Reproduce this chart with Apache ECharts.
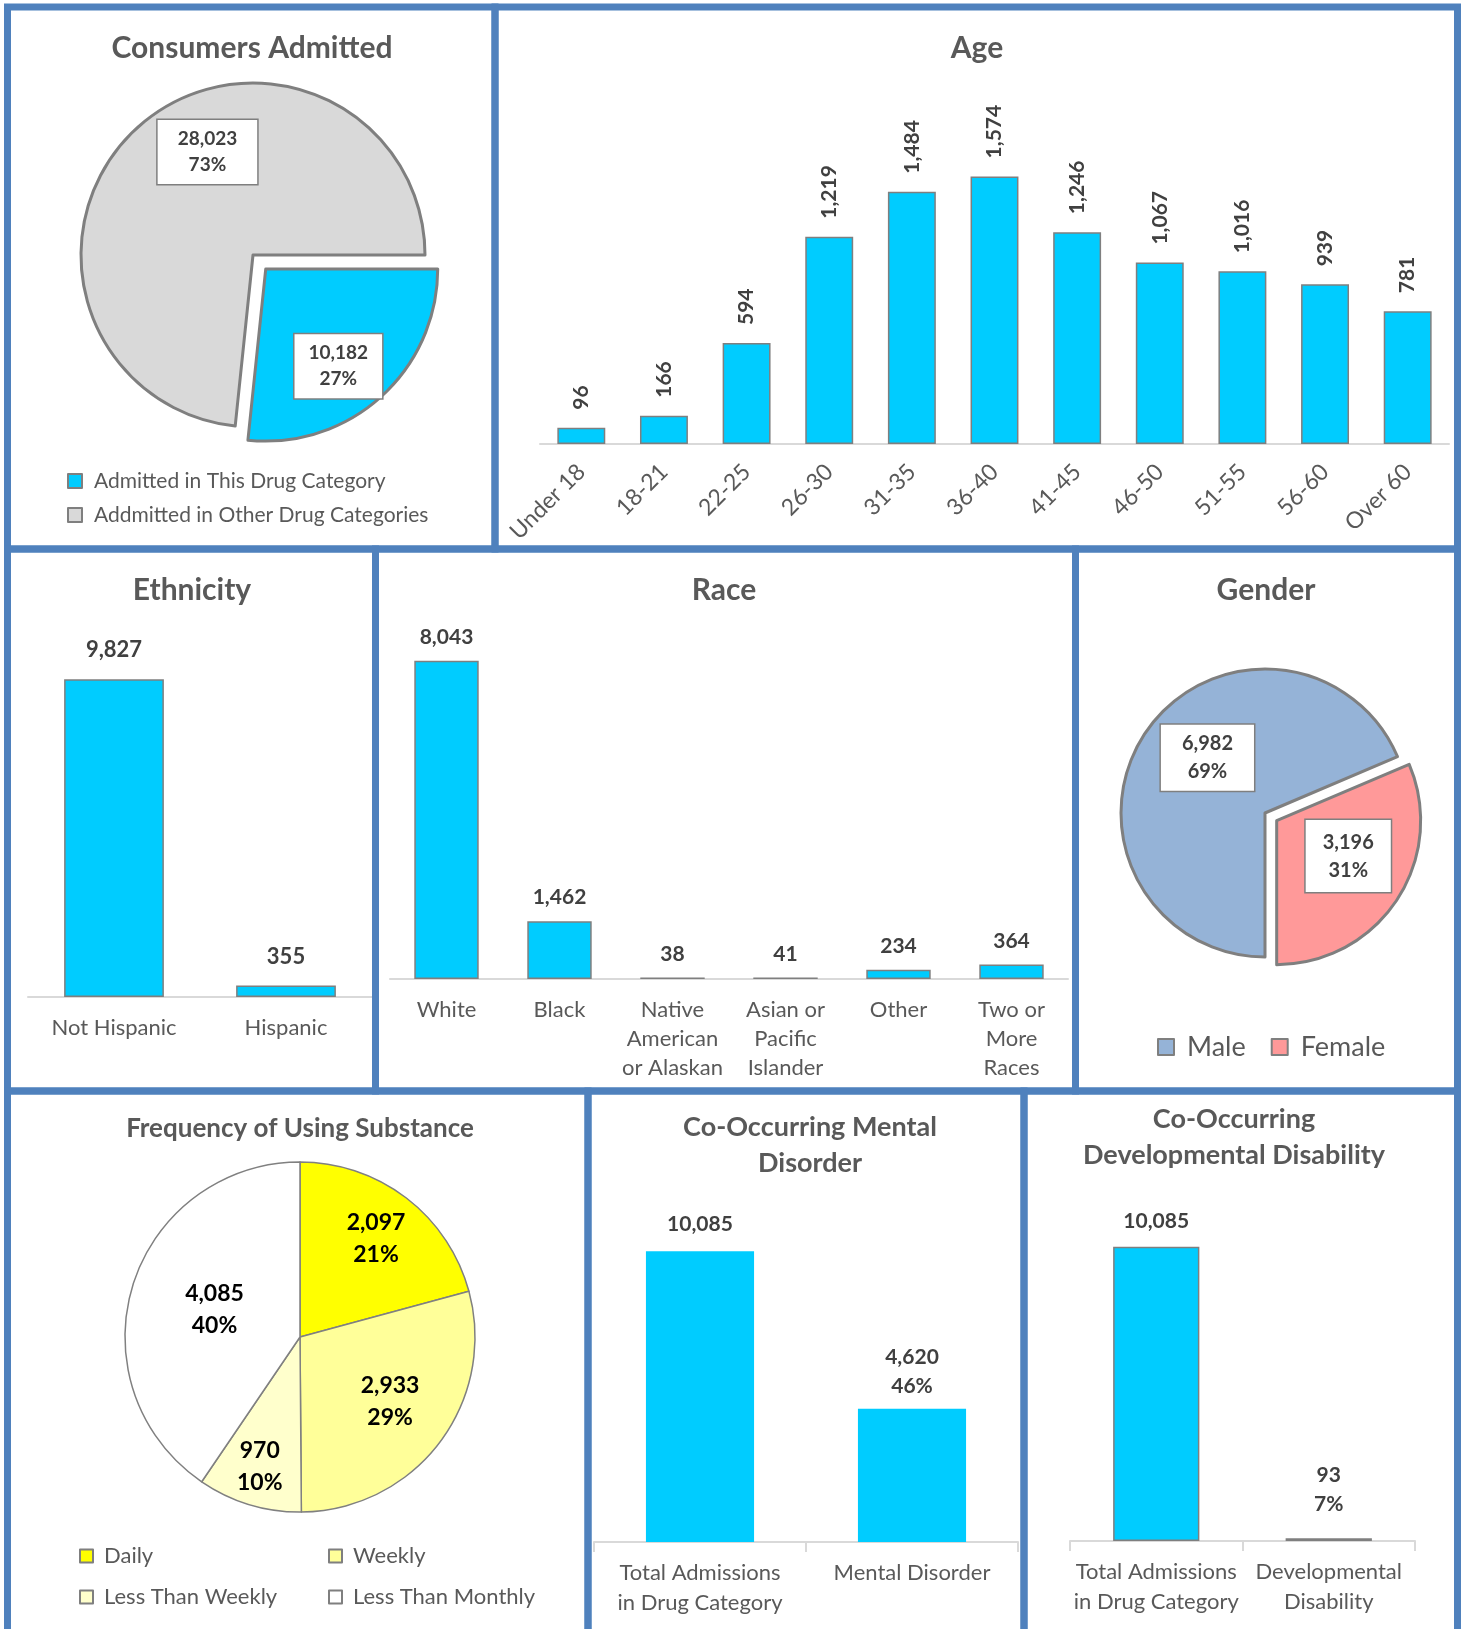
<!DOCTYPE html>
<html>
<head>
<meta charset="utf-8">
<script src="https://cdn.jsdelivr.net/npm/echarts@6/dist/echarts.min.js"></script>
<style>
  html, body { margin: 0; padding: 0; background: #ffffff; }
  #main { width: 1466px; height: 1629px; }
</style>
</head>
<body>
<div id="main"></div>
<script>
// ---------- data ----------
const admitNames = ['Admitted in This Drug Category', 'Addmitted in Other Drug Categories'];
const admitValues = [10182, 28023];
const admitPct = ['27%', '73%'];

const ageCats = ['Under 18', '18-21', '22-25', '26-30', '31-35', '36-40', '41-45', '46-50', '51-55', '56-60', 'Over 60'];
const ageValues = [96, 166, 594, 1219, 1484, 1574, 1246, 1067, 1016, 939, 781];

const ethCats = ['Not Hispanic', 'Hispanic'];
const ethValues = [9827, 355];

const raceCats = ['White', 'Black', 'Native\nAmerican\nor Alaskan', 'Asian or\nPacific\nIslander', 'Other', 'Two or\nMore\nRaces'];
const raceValues = [8043, 1462, 38, 41, 234, 364];

const genderNames = ['Male', 'Female'];
const genderValues = [6982, 3196];
const genderPct = ['69%', '31%'];

const freqNames = ['Daily', 'Weekly', 'Less Than Weekly', 'Less Than Monthly'];
const freqValues = [2097, 2933, 970, 4085];
const freqPct = ['21%', '29%', '10%', '40%'];

const mentalCats = ['Total Admissions\nin Drug Category', 'Mental Disorder'];
const mentalValues = [10085, 4620];
const mentalPct = ['', '46%'];

const devCats = ['Total Admissions\nin Drug Category', 'Developmental\nDisability'];
const devValues = [10085, 93];
const devPct = ['', '7%'];

// ---------- styling ----------
const FONT = 'Lato';
const FRAME = '#4F81BD';
const CYAN = '#00CCFF';
const TITLE_COLOR = '#595959';
const LABEL_COLOR = '#404040';
const AXIS_GREY = '#D9D9D9';
const EDGE_GREY = '#7F7F7F';

const admitColors = [CYAN, '#D9D9D9'];
const genderColors = ['#95B3D7', '#FF9999'];
const freqColors = ['#FFFF00', '#FFFF99', '#FFFFCC', '#FFFFFF'];

// small shifts of the pie labels away from the default mid-radius spot
const admitNudge = [[13, 31], [14, -37]];
const genderNudge = [[5, -14], [9, -6]];
const freqNudge = [[21, -27], [18, 10], [-14, 43], [1, -1]];

const fmt = v => v.toLocaleString('en-US');

function panelTitle(text, x, top, size, lh) {
  return {
    text: text, left: x, top: top, textAlign: 'center', padding: 0,
    textStyle: { fontFamily: FONT, fontSize: size, fontWeight: 'bold', color: TITLE_COLOR, lineHeight: lh }
  };
}

function catAxis(idx, cats, opts) {
  opts = opts || {};
  return {
    type: 'category', gridIndex: idx, data: cats,
    axisLine: { lineStyle: { color: AXIS_GREY, width: 2 } },
    axisTick: opts.ticks ? { show: true, length: 10, lineStyle: { color: AXIS_GREY, width: 2 } } : { show: false },
    axisLabel: Object.assign({
      interval: 0, color: TITLE_COLOR, fontFamily: FONT, fontSize: 22, lineHeight: opts.lh || 29, margin: 16
    }, opts.label || {})
  };
}

function valAxis(idx, max) {
  return { type: 'value', gridIndex: idx, min: 0, max: max, show: false };
}

const valueLabel = {
  show: true, position: 'top', fontFamily: FONT, fontSize: 21, fontWeight: 'bold', color: LABEL_COLOR
};

const legendBase = {
  icon: 'rect', selectedMode: false, padding: 0,
  itemStyle: { borderColor: EDGE_GREY, borderWidth: 2 },
  textStyle: { fontFamily: FONT, color: TITLE_COLOR }
};

// panel frames: [left, top, right, bottom] of each border line
const frames = [
  [7.5, 7, 495, 549], [495, 7, 1457.5, 549],
  [7.5, 549, 375.5, 1091], [375.5, 549, 1075.5, 1091], [1075.5, 549, 1457.5, 1091],
  [7.5, 1091, 588, 1634], [588, 1091, 1024, 1634], [1024, 1091, 1457.5, 1634]
];

const option = {
  animation: false,
  textStyle: { fontFamily: FONT },
  title: [
    panelTitle('Consumers Admitted', 252, 29, 30, 38),
    panelTitle('Age', 977, 29, 30, 38),
    panelTitle('Ethnicity', 192, 571, 30, 38),
    panelTitle('Race', 724, 571, 30, 38),
    panelTitle('Gender', 1266, 571, 30, 38),
    panelTitle('Frequency of Using Substance', 300, 1112, 26, 34),
    panelTitle('Co-Occurring Mental\nDisorder', 810, 1109, 27, 36),
    panelTitle('Co-Occurring\nDevelopmental Disability', 1234, 1101, 27, 36)
  ],
  grid: [
    { left: 540, top: 138, width: 909, height: 306, outerBoundsMode: 'none' },
    { left: 28, top: 609, width: 344, height: 388, outerBoundsMode: 'none' },
    { left: 390, top: 623, width: 678, height: 356, outerBoundsMode: 'none' },
    { left: 594, top: 1196, width: 424, height: 346, outerBoundsMode: 'none' },
    { left: 1070, top: 1191, width: 345, height: 350, outerBoundsMode: 'none' }
  ],
  xAxis: [
    catAxis(0, ageCats, { label: { rotate: 45, fontSize: 23, margin: 24 } }),
    catAxis(1, ethCats),
    catAxis(2, raceCats),
    catAxis(3, mentalCats, { ticks: true, lh: 30 }),
    catAxis(4, devCats, { ticks: true, lh: 30 })
  ],
  yAxis: [valAxis(0, 1800), valAxis(1, 12000), valAxis(2, 9000), valAxis(3, 12000), valAxis(4, 12000)],
  legend: [
    Object.assign({}, legendBase, {
      data: admitNames, orient: 'vertical', left: 67, top: 469, itemWidth: 14, itemHeight: 14, itemGap: 10,
      textStyle: Object.assign({}, legendBase.textStyle, { fontSize: 21, lineHeight: 24, padding: [0, 0, 0, 7] })
    }),
    Object.assign({}, legendBase, {
      data: genderNames, orient: 'horizontal', left: 1157, top: 1032, itemWidth: 16, itemHeight: 16, itemGap: 25,
      textStyle: Object.assign({}, legendBase.textStyle, { fontSize: 27, lineHeight: 30, padding: [0, 0, 0, 8] })
    }),
    Object.assign({}, legendBase, {
      data: [freqNames[0], freqNames[2]], orient: 'vertical', left: 79, top: 1543, itemWidth: 13, itemHeight: 13, itemGap: 15,
      textStyle: Object.assign({}, legendBase.textStyle, { fontSize: 22, lineHeight: 26, padding: [0, 0, 0, 6] })
    }),
    Object.assign({}, legendBase, {
      data: [freqNames[1], freqNames[3]], orient: 'vertical', left: 328, top: 1543, itemWidth: 13, itemHeight: 13, itemGap: 15,
      textStyle: Object.assign({}, legendBase.textStyle, { fontSize: 22, lineHeight: 26, padding: [0, 0, 0, 6] })
    })
  ],
  series: [
    // Consumers admitted
    {
      type: 'pie', center: [253, 255], radius: 172, startAngle: 0, clockwise: true,
      selectedMode: 'single', selectedOffset: 19,
      itemStyle: { borderColor: EDGE_GREY, borderWidth: 3 },
      select: { itemStyle: { borderColor: EDGE_GREY, borderWidth: 3 } },
      emphasis: { disabled: true },
      data: admitNames.map((n, i) => ({
        name: n, value: admitValues[i], selected: i === 0,
        itemStyle: { color: admitColors[i] },
        label: { padding: i === 0 ? [6, 14] : [6, 20] }
      })),
      label: {
        show: true, position: 'inside',
        formatter: p => fmt(p.value) + '\n' + admitPct[p.dataIndex],
        backgroundColor: '#ffffff', borderColor: EDGE_GREY, borderWidth: 1.5,
        fontFamily: FONT, fontSize: 19, fontWeight: 'bold', color: LABEL_COLOR, lineHeight: 26
      },
      labelLine: { show: false },
      labelLayout: p => ({ dx: admitNudge[p.dataIndex][0], dy: admitNudge[p.dataIndex][1] })
    },
    // Age
    {
      type: 'bar', xAxisIndex: 0, yAxisIndex: 0, data: ageValues, barWidth: '58%',
      itemStyle: { color: CYAN, borderColor: EDGE_GREY, borderWidth: 1.5 },
      emphasis: { disabled: true },
      label: Object.assign({}, valueLabel, {
        rotate: 90, align: 'left', verticalAlign: 'middle', distance: 18,
        formatter: p => fmt(p.value)
      })
    },
    // Ethnicity
    {
      type: 'bar', xAxisIndex: 1, yAxisIndex: 1, data: ethValues, barWidth: '58%',
      itemStyle: { color: CYAN, borderColor: EDGE_GREY, borderWidth: 1.5 },
      emphasis: { disabled: true },
      label: Object.assign({}, valueLabel, { distance: 18, fontSize: 22, formatter: p => fmt(p.value) })
    },
    // Race
    {
      type: 'bar', xAxisIndex: 2, yAxisIndex: 2, data: raceValues, barWidth: '57%',
      itemStyle: { color: CYAN, borderColor: EDGE_GREY, borderWidth: 1.5 },
      emphasis: { disabled: true },
      label: Object.assign({}, valueLabel, { distance: 13, formatter: p => fmt(p.value) })
    },
    // Gender
    {
      type: 'pie', center: [1265, 813], radius: 144, startAngle: -90, clockwise: true,
      selectedMode: 'single', selectedOffset: 14,
      itemStyle: { borderColor: EDGE_GREY, borderWidth: 3 },
      select: { itemStyle: { borderColor: EDGE_GREY, borderWidth: 3 } },
      emphasis: { disabled: true },
      data: genderNames.map((n, i) => ({
        name: n, value: genderValues[i], selected: i === 1,
        itemStyle: { color: genderColors[i] },
        label: { padding: i === 0 ? [5, 21] : [8, 17] }
      })),
      label: {
        show: true, position: 'inside',
        formatter: p => fmt(p.value) + '\n' + genderPct[p.dataIndex],
        backgroundColor: '#ffffff', borderColor: EDGE_GREY, borderWidth: 1.5,
        fontFamily: FONT, fontSize: 20, fontWeight: 'bold', color: LABEL_COLOR, lineHeight: 28
      },
      labelLine: { show: false },
      labelLayout: p => ({ dx: genderNudge[p.dataIndex][0], dy: genderNudge[p.dataIndex][1] })
    },
    // Frequency of use
    {
      type: 'pie', center: [300, 1337], radius: 175, startAngle: 90, clockwise: true,
      itemStyle: { borderColor: '#808080', borderWidth: 1.5 },
      emphasis: { disabled: true },
      data: freqNames.map((n, i) => ({ name: n, value: freqValues[i], itemStyle: { color: freqColors[i] } })),
      label: {
        show: true, position: 'inside',
        formatter: p => fmt(p.value) + '\n' + freqPct[p.dataIndex],
        fontFamily: FONT, fontSize: 23, fontWeight: 'bold', color: '#000000', lineHeight: 32
      },
      labelLine: { show: false },
      labelLayout: p => ({ dx: freqNudge[p.dataIndex][0], dy: freqNudge[p.dataIndex][1] })
    },
    // Co-occurring mental disorder
    {
      type: 'bar', xAxisIndex: 3, yAxisIndex: 3, barWidth: '51%',
      data: mentalValues.map((v, i) => i === 1 ? { value: v, label: { distance: 8 } } : v),
      itemStyle: { color: CYAN },
      emphasis: { disabled: true },
      label: Object.assign({}, valueLabel, {
        distance: 12, lineHeight: 29,
        formatter: p => fmt(p.value) + (mentalPct[p.dataIndex] ? '\n' + mentalPct[p.dataIndex] : '')
      })
    },
    // Co-occurring developmental disability
    {
      type: 'bar', xAxisIndex: 4, yAxisIndex: 4, barWidth: '50%',
      data: devValues.map((v, i) => i === 1 ? { value: v, label: { distance: 20 } } : v),
      itemStyle: { color: CYAN, borderColor: EDGE_GREY, borderWidth: 1.5 },
      emphasis: { disabled: true },
      label: Object.assign({}, valueLabel, {
        distance: 11, lineHeight: 29,
        formatter: p => fmt(p.value) + (devPct[p.dataIndex] ? '\n' + devPct[p.dataIndex] : '')
      })
    }
  ],
  graphic: frames.map(f => ({
    type: 'rect', silent: true, z: 100,
    shape: { x: f[0], y: f[1], width: f[2] - f[0], height: f[3] - f[1] },
    style: { fill: 'none', stroke: FRAME, lineWidth: 7 }
  }))
};

const chart = echarts.init(document.getElementById('main'), null, { renderer: 'canvas' });
chart.setOption(option);
</script>
</body>
</html>
